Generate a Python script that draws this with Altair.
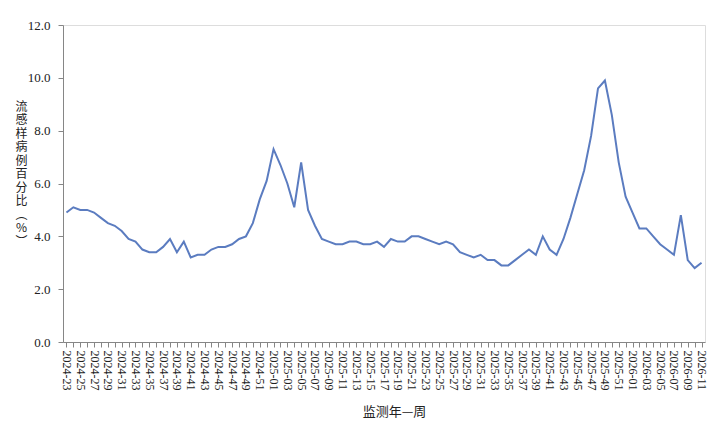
import altair as alt
import pandas as pd

# Week labels 2024-23 ... 2026-11
weeks_2024 = [f"2024-{w:02d}" for w in range(23, 53)]
weeks_2025 = [f"2025-{w:02d}" for w in range(1, 53)]
weeks_2026 = [f"2026-{w:02d}" for w in range(1, 12)]
weeks = weeks_2024 + weeks_2025 + weeks_2026

vals_2024 = [4.9, 5.1, 5.0, 5.0, 4.9, 4.7, 4.5, 4.4, 4.2, 3.9,
             3.8, 3.5, 3.4, 3.4, 3.6, 3.9, 3.4, 3.8, 3.2, 3.3,
             3.3, 3.5, 3.6, 3.6, 3.7, 3.9, 4.0, 4.5, 5.4, 6.1]
vals_2025 = [7.3, 6.7, 6.0, 5.1, 6.8, 5.0, 4.4, 3.9, 3.8, 3.7,
             3.7, 3.8, 3.8, 3.7, 3.7, 3.8, 3.6, 3.9, 3.8, 3.8,
             4.0, 4.0, 3.9, 3.8, 3.7, 3.8, 3.7, 3.4, 3.3, 3.2,
             3.3, 3.1, 3.1, 2.9, 2.9, 3.1, 3.3, 3.5, 3.3, 4.0,
             3.5, 3.3, 3.9, 4.7, 5.6, 6.5, 7.8, 9.6, 9.9, 8.6,
             6.8, 5.5]
vals_2026 = [4.9, 4.3, 4.3, 4.0, 3.7, 3.5, 3.3, 4.8, 3.1, 2.8, 3.0]
values = vals_2024 + vals_2025 + vals_2026

y_ticks = [0, 2, 4, 6, 8, 10, 12]
y_title = ["流", "感", "样", "病", "例", "百", "分", "比", "︵", "%", "︶"]
x_title = "监测年—周"

df = pd.DataFrame({"week": weeks, "pct": values})

axis_color = "#868686"
serif = "Times New Roman"

chart = alt.Chart(df).mark_line(color="#5B7CC0", strokeWidth=2).encode(
    x=alt.X(
        "week:N",
        sort=weeks,
        scale=alt.Scale(type="point", padding=0.5),
        axis=alt.Axis(
            title=x_title,
            titleFont="Noto Sans CJK SC",
            titleFontSize=13,
            titleFontWeight="normal",
            titleColor="#222222",
            titleX=331,
            titleY=69,
            titleBaseline="middle",
            labelAngle=90,
            labelAlign="left",
            labelBaseline="middle",
            labelFont=serif,
            labelFontSize=12,
            labelColor="#222222",
            labelPadding=3,
            labelExpr="parseInt(substring(datum.value, 5, 7)) % 2 == 1 ? datum.value : ''",
            tickSize=5,
            tickColor=axis_color,
            domainColor=axis_color,
            grid=False,
        ),
    ),
    y=alt.Y(
        "pct:Q",
        scale=alt.Scale(domain=[0, 12], nice=False),
        axis=alt.Axis(
            values=y_ticks,
            format=".1f",
            title=y_title,
            titleAngle=0,
            titleFont="Noto Sans CJK SC",
            titleFontSize=12,
            titleFontWeight="normal",
            titleColor="#222222",
            titleLineHeight=13.5,
            titleX=-42,
            titleY=76,
            titleAlign="center",
            titleBaseline="top",
            labelFont=serif,
            labelFontSize=13,
            labelColor="#222222",
            labelPadding=8,
            tickSize=5,
            tickColor=axis_color,
            domainColor=axis_color,
            grid=False,
        ),
    ),
).properties(
    width=642,
    height=317,
    autosize=alt.AutoSizeParams(type="none"),
    padding={"left": 55, "top": 17, "right": 10, "bottom": 80},
).configure_view(stroke=None).configure(background="white")

chart.save("out.html", embed_options={"renderer": "svg", "actions": False})
